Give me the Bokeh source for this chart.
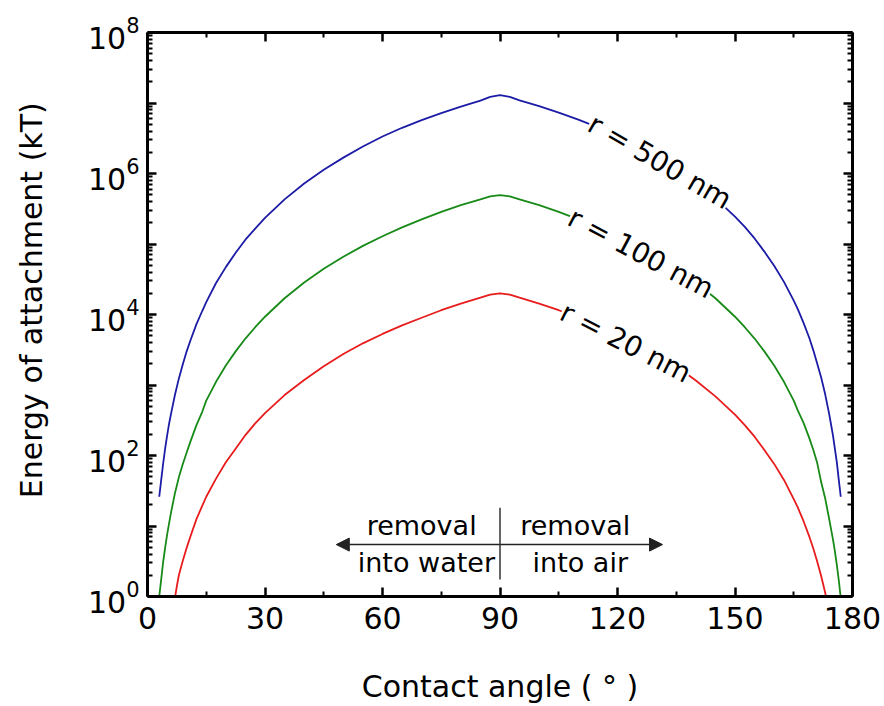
from bokeh.plotting import figure
from bokeh.models import (FixedTicker, LogAxis, LinearAxis, Label, Arrow,
                          NormalHead, LogTickFormatter, Range1d,
                          CustomJSTickFormatter)
from bokeh.embed import file_html
from bokeh.resources import INLINE

# ---- data ----
angle = [3, 3.5, 4, 4.5, 5, 5.5, 6, 7, 8, 9, 10, 11, 12.5, 14, 15, 17.5, 20,
         22.5, 25, 27.5, 30, 35, 40, 45, 50, 55, 60, 65, 70, 75, 80, 85, 87.5,
         90, 92.5, 95, 100, 105, 110, 115, 120, 125, 130, 135, 140, 145, 150,
         152.5, 155, 157.5, 160, 162.5, 165, 166, 167.5, 169, 170, 171, 172,
         173, 174, 174.5, 175, 175.5, 176, 176.5, 177]
e_500 = [26, 45, 77, 125, 190, 280, 390, 720, 1230, 1950, 3000, 4350, 7300,
         1.13e4, 1.5e4, 2.8e4, 4.7e4, 7.5e4, 1.15e5, 1.65e5, 2.35e5, 4.3e5,
         7.2e5, 1.13e6, 1.68e6, 2.42e6, 3.35e6, 4.45e6, 5.7e6, 7.2e6, 8.9e6,
         1.08e7, 1.22e7, 1.29e7, 1.22e7, 1.09e7, 9.0e6, 7.3e6, 5.8e6, 4.5e6,
         3.4e6, 2.45e6, 1.72e6, 1.16e6, 7.4e5, 4.45e5, 2.45e5, 1.75e5, 1.2e5,
         7.8e4, 4.9e4, 2.9e4, 1.57e4, 1.2e4, 7600, 4600, 3100, 2000, 1280,
         750, 400, 280, 195, 125, 80, 45, 26]
e_100 = [1.0, 1.75, 3.1, 4.9, 7.5, 10.8, 15.5, 29, 49, 75, 110, 160, 270, 420,
         600, 1110, 1890, 3000, 4560, 6600, 9300, 1.7e4, 2.85e4, 4.45e4,
         6.6e4, 9.4e4, 1.29e5, 1.72e5, 2.24e5, 2.85e5, 3.55e5, 4.3e5, 4.75e5,
         4.95e5, 4.75e5, 4.3e5, 3.55e5, 2.85e5, 2.24e5, 1.72e5, 1.29e5, 9.4e4,
         6.6e4, 4.45e4, 2.85e4, 1.7e4, 9300, 6600, 4560, 3000, 1890, 1110,
         600, 440, 290, 175, 120, 78, 42, 25, 13, 9.2, 6.5, 4.4, 2.8, 1.7, 0.95]
angle_20 = [7, 7.5, 8, 9, 10, 11, 12.5, 14, 15, 17.5, 20, 22.5, 25, 27.5, 30,
            35, 40, 45, 50, 55, 60, 65, 70, 75, 80, 85, 87.5, 90, 92.5, 95,
            100, 105, 110, 115, 120, 125, 130, 135, 140, 145, 150, 152.5, 155,
            157.5, 160, 162.5, 165, 166, 167.5, 169, 170, 171, 172, 173, 174]
e_20 = [0.95, 1.4, 2.0, 3.2, 4.9, 7.2, 12.5, 19.5, 26, 47, 80, 125, 195, 285,
        400, 720, 1180, 1850, 2750, 3900, 5300, 7000, 9000, 1.15e4, 1.43e4,
        1.73e4, 1.92e4, 2.0e4, 1.92e4, 1.73e4, 1.43e4, 1.15e4, 9000, 7000,
        5300, 3900, 2750, 1850, 1160, 690, 380, 270, 185, 120, 76, 45, 24,
        18.5, 11.7, 7.0, 4.8, 3.1, 1.95, 1.15, 0.62]

x_ticks = [0, 30, 60, 90, 120, 150, 180]
x_minor = [15, 45, 75, 105, 135, 165]
y_ticks = [10 ** n for n in range(0, 9)]
y_minor = [k * 10 ** n for n in range(0, 8) for k in range(2, 10)]
y_unlabeled = {10 ** n: "" for n in (1, 3, 5, 7)}

labels = ["r = 500 nm", "r = 100 nm", "r = 20 nm"]
colors = ["#1c1ca6", "#178a17", "#e81c1c"]

FONT = "DejaVu Sans"

p = figure(width=884, height=706, y_axis_type="log",
           x_range=Range1d(0, 180), y_range=Range1d(1, 1e8),
           output_backend="svg", toolbar_location=None,
           min_border_left=147, min_border_right=32,
           min_border_top=32, min_border_bottom=109)
p.outline_line_color = None
p.grid.visible = False
p.background_fill_color = "white"
p.border_fill_color = "white"

p.line(angle, e_500, line_color=colors[0], line_width=1.8)
p.line(angle, e_100, line_color=colors[1], line_width=1.8)
p.line(angle_20, e_20, line_color=colors[2], line_width=1.8)


def style(ax):
    ax.axis_line_width = 3
    ax.axis_line_color = "black"
    ax.major_tick_in = 9
    ax.major_tick_out = 0
    ax.minor_tick_in = 5
    ax.minor_tick_out = 0
    ax.major_tick_line_width = 2.5
    ax.minor_tick_line_width = 2
    ax.major_tick_line_color = "black"
    ax.minor_tick_line_color = "black"
    ax.major_label_text_font = FONT
    ax.major_label_text_font_size = "30px"
    ax.major_label_text_color = "black"
    ax.axis_label_text_font = FONT
    ax.axis_label_text_font_size = "30px"
    ax.axis_label_text_font_style = "normal"
    ax.axis_label_text_color = "black"


xax = p.xaxis[0]
xax.ticker = FixedTicker(ticks=x_ticks, minor_ticks=x_minor)
style(xax)
xax.axis_label = "Contact angle ( \u00b0 )"
xax.major_label_standoff = 10
xax.axis_label_standoff = 37

yax = p.yaxis[0]
yax.ticker = FixedTicker(ticks=y_ticks, minor_ticks=y_minor)
yax.formatter = LogTickFormatter()
yax.major_label_overrides = y_unlabeled
style(yax)
yax.major_label_standoff = 8
# leading no-break spaces lift the (rotated) title a little, as in the reference
yax.axis_label = "\u00a0\u00a0\u00a0Energy of attachment (kT)"
yax.axis_label_standoff = 36

blank = CustomJSTickFormatter(code="return ''")

top = LinearAxis(ticker=FixedTicker(ticks=x_ticks, minor_ticks=x_minor),
                 formatter=blank)
style(top)
top.major_label_standoff = 0
p.add_layout(top, "above")

right = LogAxis(ticker=FixedTicker(ticks=y_ticks, minor_ticks=y_minor),
                formatter=blank)
style(right)
right.major_label_standoff = 0
p.add_layout(right, "right")

# curve labels
label_pos = [(130.8, 1.47e6, -30), (126.0, 7.4e4, -28), (122.1, 4.0e3, -27)]
for (lx, ly, ang), txt in zip(label_pos, labels):
    p.add_layout(Label(x=lx, y=ly, text=txt, angle=ang, angle_units="deg",
                       text_align="center", text_baseline="middle",
                       text_font=FONT, text_font_size="28px",
                       text_color="black", background_fill_color="white"))

# removal annotation
ARROW_Y = 5.45
head = dict(size=13, fill_color="#222222", line_color="#222222")
p.add_layout(Arrow(x_start=90, y_start=ARROW_Y, x_end=48.2, y_end=ARROW_Y,
                   line_color="#222222", line_width=1.5,
                   end=NormalHead(**head)))
p.add_layout(Arrow(x_start=90, y_start=ARROW_Y, x_end=131.5, y_end=ARROW_Y,
                   line_color="#222222", line_width=1.5,
                   end=NormalHead(**head)))
p.add_layout(Arrow(x_start=90, y_start=1.74, x_end=90, y_end=18.2, end=None,
                   line_color="#333333", line_width=1.5))

for tx, ty, txt in [(70, 10.1, "removal"), (71.2, 3.03, "into water"),
                    (109.2, 10.1, "removal"), (110.5, 3.03, "into air")]:
    p.add_layout(Label(x=tx, y=ty, text=txt, text_align="center",
                       text_baseline="alphabetic", text_font=FONT,
                       text_font_size="27px", text_color="black"))

open("out.html", "w").write(file_html(p, INLINE))
